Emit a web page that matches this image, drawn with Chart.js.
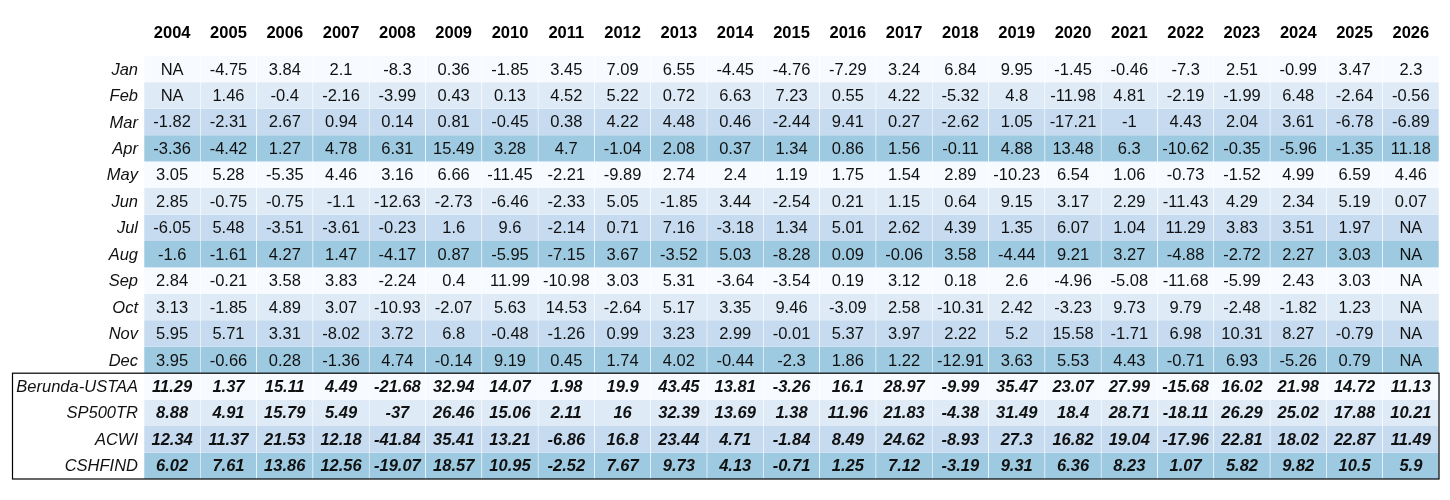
<!DOCTYPE html>
<html>
<head>
<meta charset="utf-8">
<script src="https://cdn.jsdelivr.net/npm/chart.js@4"></script>
<style>
  html, body { margin: 0; padding: 0; background: #fff; }
  #wrap { width: 1450px; height: 500px; }
</style>
</head>
<body>
<div id="wrap"><canvas id="myChart"></canvas></div>
<script>
const years = ["2004","2005","2006","2007","2008","2009","2010","2011","2012","2013","2014","2015","2016","2017","2018","2019","2020","2021","2022","2023","2024","2025","2026"];
const rowLabels = ["Jan","Feb","Mar","Apr","May","Jun","Jul","Aug","Sep","Oct","Nov","Dec","Berunda-USTAA","SP500TR","ACWI","CSHFIND"];

const jan = [null,-4.75,3.84,2.1,-8.3,0.36,-1.85,3.45,7.09,6.55,-4.45,-4.76,-7.29,3.24,6.84,9.95,-1.45,-0.46,-7.3,2.51,-0.99,3.47,2.3];
const feb = [null,1.46,-0.4,-2.16,-3.99,0.43,0.13,4.52,5.22,0.72,6.63,7.23,0.55,4.22,-5.32,4.8,-11.98,4.81,-2.19,-1.99,6.48,-2.64,-0.56];
const mar = [-1.82,-2.31,2.67,0.94,0.14,0.81,-0.45,0.38,4.22,4.48,0.46,-2.44,9.41,0.27,-2.62,1.05,-17.21,-1,4.43,2.04,3.61,-6.78,-6.89];
const apr = [-3.36,-4.42,1.27,4.78,6.31,15.49,3.28,4.7,-1.04,2.08,0.37,1.34,0.86,1.56,-0.11,4.88,13.48,6.3,-10.62,-0.35,-5.96,-1.35,11.18];
const may = [3.05,5.28,-5.35,4.46,3.16,6.66,-11.45,-2.21,-9.89,2.74,2.4,1.19,1.75,1.54,2.89,-10.23,6.54,1.06,-0.73,-1.52,4.99,6.59,4.46];
const jun = [2.85,-0.75,-0.75,-1.1,-12.63,-2.73,-6.46,-2.33,5.05,-1.85,3.44,-2.54,0.21,1.15,0.64,9.15,3.17,2.29,-11.43,4.29,2.34,5.19,0.07];
const jul = [-6.05,5.48,-3.51,-3.61,-0.23,1.6,9.6,-2.14,0.71,7.16,-3.18,1.34,5.01,2.62,4.39,1.35,6.07,1.04,11.29,3.83,3.51,1.97,null];
const aug = [-1.6,-1.61,4.27,1.47,-4.17,0.87,-5.95,-7.15,3.67,-3.52,5.03,-8.28,0.09,-0.06,3.58,-4.44,9.21,3.27,-4.88,-2.72,2.27,3.03,null];
const sep = [2.84,-0.21,3.58,3.83,-2.24,0.4,11.99,-10.98,3.03,5.31,-3.64,-3.54,0.19,3.12,0.18,2.6,-4.96,-5.08,-11.68,-5.99,2.43,3.03,null];
const oct = [3.13,-1.85,4.89,3.07,-10.93,-2.07,5.63,14.53,-2.64,5.17,3.35,9.46,-3.09,2.58,-10.31,2.42,-3.23,9.73,9.79,-2.48,-1.82,1.23,null];
const nov = [5.95,5.71,3.31,-8.02,3.72,6.8,-0.48,-1.26,0.99,3.23,2.99,-0.01,5.37,3.97,2.22,5.2,15.58,-1.71,6.98,10.31,8.27,-0.79,null];
const dec = [3.95,-0.66,0.28,-1.36,4.74,-0.14,9.19,0.45,1.74,4.02,-0.44,-2.3,1.86,1.22,-12.91,3.63,5.53,4.43,-0.71,6.93,-5.26,0.79,null];
const berunda = [11.29,1.37,15.11,4.49,-21.68,32.94,14.07,1.98,19.9,43.45,13.81,-3.26,16.1,28.97,-9.99,35.47,23.07,27.99,-15.68,16.02,21.98,14.72,11.13];
const sp500tr = [8.88,4.91,15.79,5.49,-37,26.46,15.06,2.11,16,32.39,13.69,1.38,11.96,21.83,-4.38,31.49,18.4,28.71,-18.11,26.29,25.02,17.88,10.21];
const acwi = [12.34,11.37,21.53,12.18,-41.84,35.41,13.21,-6.86,16.8,23.44,4.71,-1.84,8.49,24.62,-8.93,27.3,16.82,19.04,-17.96,22.81,18.02,22.87,11.49];
const cshfind = [6.02,7.61,13.86,12.56,-19.07,18.57,10.95,-2.52,7.67,9.73,4.13,-0.71,1.25,7.12,-3.19,9.31,6.36,8.23,1.07,5.82,9.82,10.5,5.9];

const rows = [jan,feb,mar,apr,may,jun,jul,aug,sep,oct,nov,dec,berunda,sp500tr,acwi,cshfind];
const shades = ["#f7fbff","#deebf7","#c6dbef","#9ecae1"];
const FONT = "'Liberation Sans', Arial, sans-serif";

// each row is a floating bar per year, spanning [i, i+1] on a reversed y scale
const datasets = rows.map((vals, i) => ({
  label: rowLabels[i],
  data: vals.map(() => [i, i + 1]),
  backgroundColor: shades[i % 4],
  borderColor: "#ffffff",
  borderWidth: { left: 0.6, right: 0.6, top: 0, bottom: 0 },
  borderSkipped: false,
  barPercentage: 1,
  categoryPercentage: 1,
  grouped: false
}));

const cellText = {
  id: "cellText",
  afterDatasetsDraw(chart) {
    const ctx = chart.ctx;
    const x = chart.scales.x;
    const y = chart.scales.y;
    ctx.save();
    ctx.textBaseline = "middle";
    rows.forEach((vals, i) => {
      const yc = y.getPixelForValue(i + 0.5);
      const summary = i >= 12;
      ctx.fillStyle = "#111";
      ctx.font = (summary ? "italic bold " : "") + "16.5px " + FONT;
      ctx.textAlign = "center";
      vals.forEach((v, j) => {
        ctx.fillText(v === null ? "NA" : String(v), x.getPixelForValue(j), yc + 1);
      });
      ctx.font = "italic 16.5px " + FONT;
      ctx.textAlign = "right";
      ctx.fillText(rowLabels[i], chart.chartArea.left - 6, yc + 1);
    });
    // box round the summary rows
    const top = y.getPixelForValue(12);
    const bottom = y.getPixelForValue(16);
    ctx.strokeStyle = "#000";
    ctx.lineWidth = 1.2;
    ctx.strokeRect(12.5, top, chart.chartArea.right - 12.5, bottom - top);
    ctx.restore();
  }
};

new Chart(document.querySelector("#myChart"), {
  type: "bar",
  data: { labels: years, datasets },
  options: {
    responsive: true,
    maintainAspectRatio: false,
    animation: false,
    layout: { padding: { left: 144, right: 11, top: 20, bottom: 21 } },
    plugins: { legend: { display: false }, tooltip: { enabled: false } },
    scales: {
      x: {
        position: "top",
        grid: { display: false },
        border: { display: false },
        ticks: { color: "#000", font: { family: FONT, size: 16.5, weight: "bold" }, padding: 4 }
      },
      y: { display: false, min: 0, max: rows.length, reverse: true }
    }
  },
  plugins: [cellText]
});
</script>
</body>
</html>
